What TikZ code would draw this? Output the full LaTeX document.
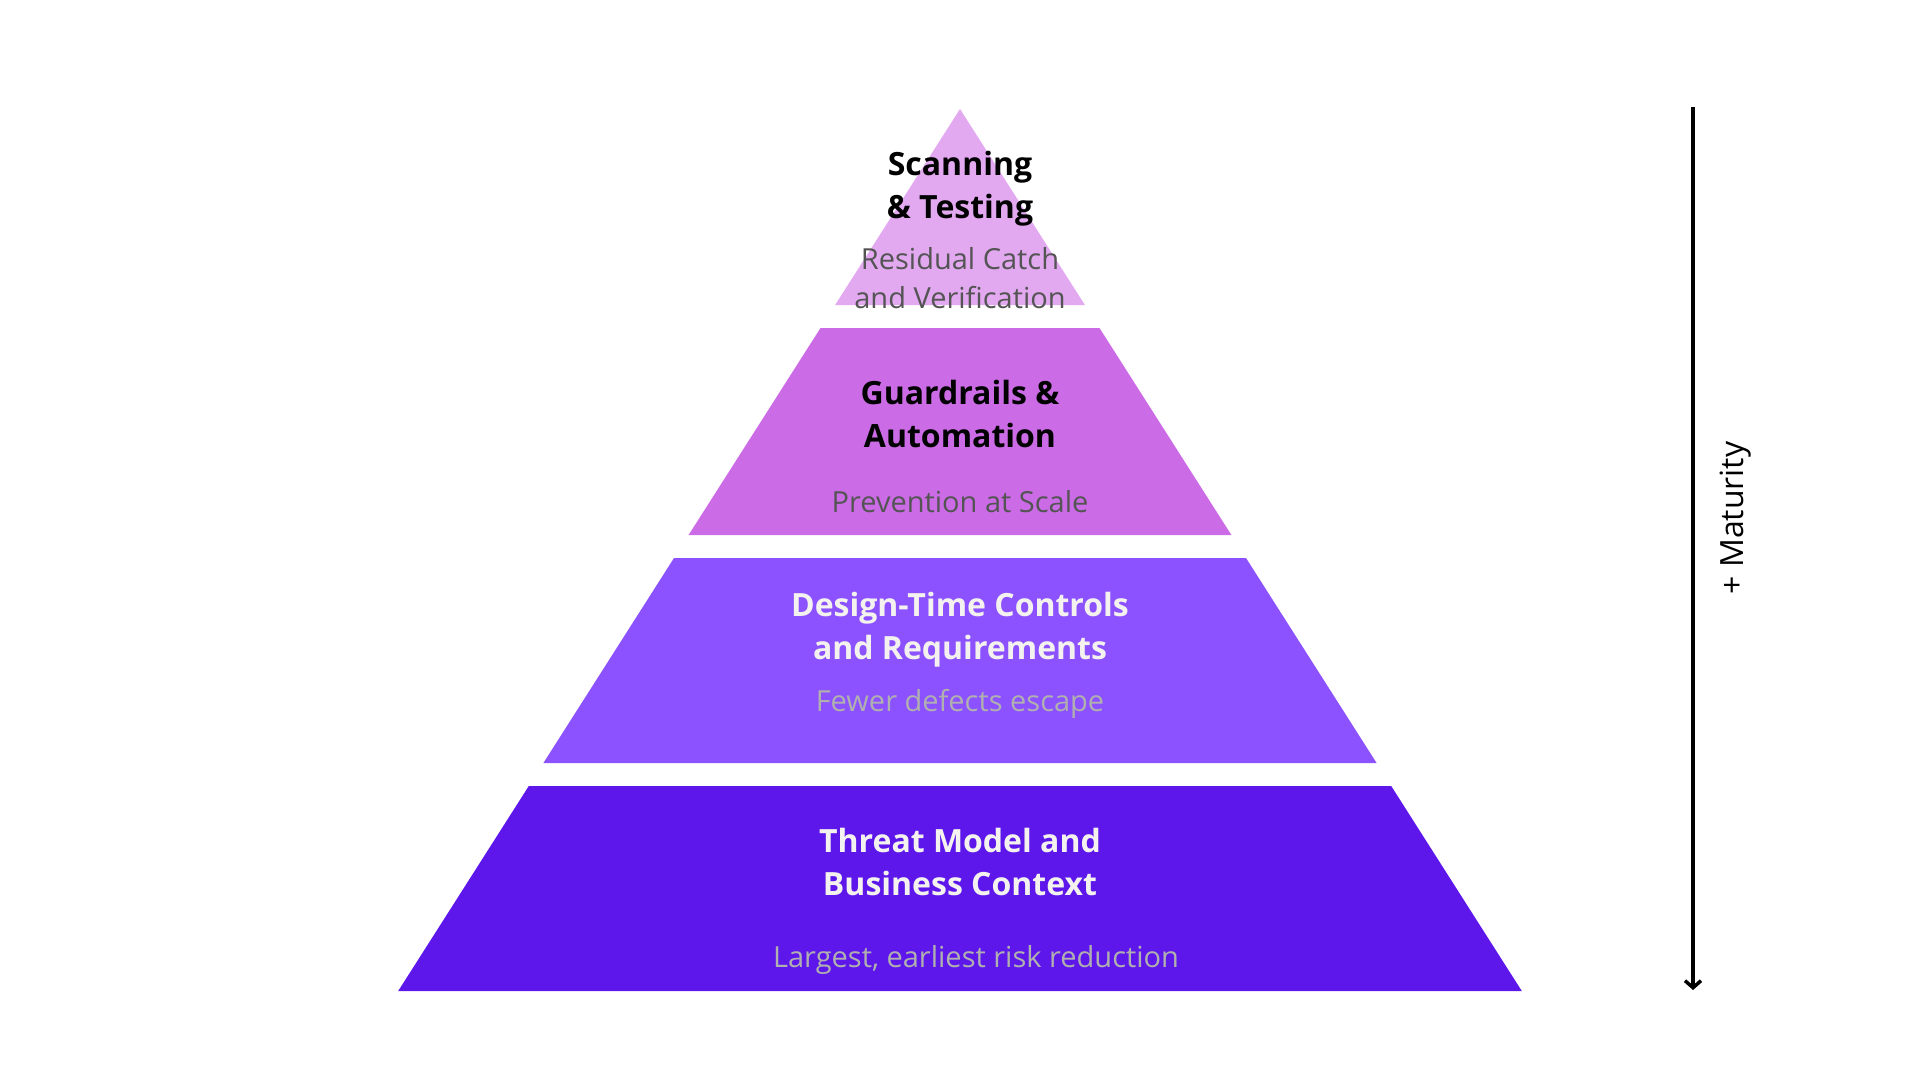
\documentclass[tikz,border=0pt]{standalone}
\usepackage{fontspec}
\setmainfont{Open Sans}
\usetikzlibrary{arrows.meta,positioning}
\definecolor{tierA}{HTML}{E2A9F1}
\definecolor{tierB}{HTML}{CB6CE6}
\definecolor{tierC}{HTML}{8C52FF}
\definecolor{tierD}{HTML}{5E17EB}
\definecolor{subdark}{HTML}{545454}
\definecolor{sublight}{HTML}{B0B0B0}
\definecolor{offwhite}{HTML}{F4F2EE}

\begin{document}
\begin{tikzpicture}[x=1pt, y=-1pt,
    title/.style={align=center, font=\fontsize{32}{43}\selectfont\bfseries, inner sep=0pt},
    sub/.style={align=center, font=\fontsize{29}{39}\selectfont, inner sep=0pt},
    arrow/.style={-{Straight Barb[length=7pt, width=16pt]}, line width=3.5pt}
  ]
    \useasboundingbox (0,0) rectangle (1920,1080);
    % pyramid tiers
    \fill[tierA] (960,109) -- (1084.9,305) -- (835.1,305) -- cycle;
    \fill[tierB] (820.5,328) -- (1099.5,328) -- (1231.4,535) -- (688.6,535) -- cycle;
    \fill[tierC] (674,558) -- (1246,558) -- (1376.6,763) -- (543.4,763) -- cycle;
    \fill[tierD] (528.8,786) -- (1391.2,786) -- (1521.8,991) -- (398.2,991) -- cycle;

    \node[title] (scan) at (960,188.5) {Scanning\\\& Testing};
    \node[sub, text=subdark] (scansub) at (960,278.5) {Residual Catch\\and Verification};
    \node[title] (guard) at (960,414) {Guardrails \&\\Automation};
    \node[sub, text=subdark] (guardsub) at (960,502) {Prevention at Scale};
    \node[title, text=offwhite] (design) at (960,630) {Design-Time Controls\\and Requirements};
    \node[sub, text=sublight] (designsub) at (960,703.5) {Fewer defects escape};
    \node[title, text=offwhite] (threat) at (960,862) {Threat Model and\\Business Context};
    \node[sub, text=sublight] (threatsub) at (976,959.5) {Largest, earliest risk reduction};

    % maturity axis
    \coordinate (top) at (1693,107);
    \coordinate (bottom) at (1693,990);
    \draw[arrow] (top) -- (bottom);
    \node[rotate=90, font=\fontsize{32}{36}\selectfont, inner sep=0pt] (maturity) at (1736,518) {+ Maturity};
  \end{tikzpicture}
\end{document}
